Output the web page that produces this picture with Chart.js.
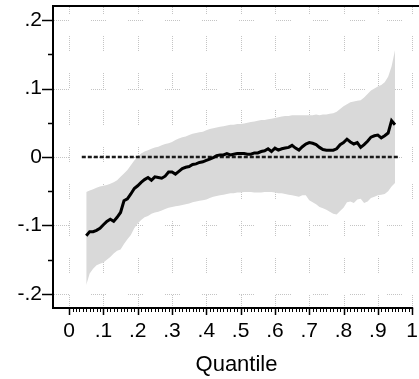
<!DOCTYPE html>
<html>
<head>
<meta charset="utf-8">
<script src="https://cdn.jsdelivr.net/npm/chart.js@4/dist/chart.umd.min.js"></script>
<style>
  html, body { margin: 0; padding: 0; background: #fff; }
  #wrap { width: 419px; height: 379px; position: relative; }
</style>
</head>
<body>
<div id="wrap"><canvas id="chart" width="419" height="379"></canvas></div>
<script>
// Quantile grid of the estimated coefficient process
const quantiles = [
  0.05, 0.06, 0.07, 0.08, 0.09, 0.10, 0.11, 0.12, 0.13, 0.14,
  0.15, 0.16, 0.17, 0.18, 0.19, 0.20, 0.21, 0.22, 0.23, 0.24,
  0.25, 0.26, 0.27, 0.28, 0.29, 0.30, 0.31, 0.32, 0.33, 0.34,
  0.35, 0.36, 0.37, 0.38, 0.39, 0.40, 0.41, 0.42, 0.43, 0.44,
  0.45, 0.46, 0.47, 0.48, 0.49, 0.50, 0.51, 0.52, 0.53, 0.54,
  0.55, 0.56, 0.57, 0.58, 0.59, 0.60, 0.61, 0.62, 0.63, 0.64,
  0.65, 0.66, 0.67, 0.68, 0.69, 0.70, 0.71, 0.72, 0.73, 0.74,
  0.75, 0.76, 0.77, 0.78, 0.79, 0.80, 0.81, 0.82, 0.83, 0.84,
  0.85, 0.86, 0.87, 0.88, 0.89, 0.90, 0.91, 0.92, 0.93, 0.94,
  0.95
];

// Point estimates by quantile
const estimate = [
  -0.115, -0.109, -0.109, -0.107, -0.104, -0.099, -0.094, -0.091, -0.094, -0.088,
  -0.081, -0.064, -0.061, -0.054, -0.046, -0.042, -0.037, -0.033, -0.030, -0.034,
  -0.029, -0.030, -0.031, -0.028, -0.022, -0.022, -0.025, -0.021, -0.017, -0.015,
  -0.014, -0.011, -0.010, -0.008, -0.007, -0.005, -0.003, -0.001, 0.002, 0.003,
  0.003, 0.005, 0.003, 0.004, 0.005, 0.005, 0.005, 0.004, 0.004, 0.006,
  0.006, 0.008, 0.009, 0.012, 0.008, 0.013, 0.010, 0.012, 0.013, 0.014,
  0.017, 0.013, 0.010, 0.015, 0.019, 0.021, 0.020, 0.018, 0.014, 0.011,
  0.010, 0.010, 0.010, 0.012, 0.018, 0.021, 0.026, 0.022, 0.019, 0.021,
  0.014, 0.018, 0.023, 0.029, 0.031, 0.032, 0.028, 0.031, 0.035, 0.053,
  0.047
];

// Upper bound of the confidence band
const ciUpper = [
  -0.051, -0.049, -0.047, -0.045, -0.043, -0.042, -0.041, -0.039, -0.037, -0.034,
  -0.029, -0.024, -0.019, -0.012, -0.005, 0.000, 0.005, 0.008, 0.010, 0.012,
  0.014, 0.015, 0.017, 0.019, 0.020, 0.022, 0.025, 0.027, 0.029, 0.030,
  0.032, 0.034, 0.035, 0.036, 0.037, 0.039, 0.041, 0.042, 0.043, 0.044,
  0.045, 0.046, 0.047, 0.047, 0.048, 0.048, 0.049, 0.050, 0.051, 0.052,
  0.053, 0.054, 0.054, 0.055, 0.056, 0.057, 0.058, 0.059, 0.060, 0.060,
  0.061, 0.061, 0.061, 0.061, 0.061, 0.061, 0.061, 0.062, 0.061, 0.062,
  0.062, 0.063, 0.064, 0.066, 0.070, 0.074, 0.077, 0.080, 0.081, 0.082,
  0.083, 0.087, 0.092, 0.097, 0.100, 0.103, 0.105, 0.109, 0.117, 0.132,
  0.156
];

// Lower bound of the confidence band
const ciLower = [
  -0.187, -0.170, -0.163, -0.158, -0.156, -0.154, -0.150, -0.146, -0.141, -0.137,
  -0.135, -0.127, -0.120, -0.114, -0.104, -0.097, -0.092, -0.088, -0.086, -0.083,
  -0.081, -0.080, -0.078, -0.076, -0.074, -0.073, -0.072, -0.071, -0.070, -0.069,
  -0.068, -0.066, -0.065, -0.064, -0.063, -0.062, -0.060, -0.058, -0.057, -0.056,
  -0.055, -0.054, -0.053, -0.053, -0.052, -0.052, -0.051, -0.051, -0.051, -0.052,
  -0.052, -0.052, -0.051, -0.051, -0.051, -0.052, -0.053, -0.053, -0.054, -0.055,
  -0.056, -0.057, -0.058, -0.056, -0.056, -0.063, -0.066, -0.069, -0.073, -0.075,
  -0.077, -0.080, -0.083, -0.084, -0.079, -0.074, -0.066, -0.065, -0.067, -0.062,
  -0.061, -0.067, -0.065, -0.060, -0.058, -0.056, -0.055, -0.054, -0.050, -0.043,
  -0.038
];

// Zero reference line
const zeroLineX = [0.037, 0.963];
const zeroLineY = [0, 0];

// Axis ticks
const xTicks = [0, 0.1, 0.2, 0.3, 0.4, 0.5, 0.6, 0.7, 0.8, 0.9, 1];
const yTicks = [-0.2, -0.1, 0, 0.1, 0.2];
const yMinorTicks = [-0.15, -0.05, 0.05, 0.15];
const xMinorPerMajor = 10;

const FONT = "'Liberation Sans', Arial, Helvetica, sans-serif";

function fmtTick(v) {
  if (Math.abs(v) < 1e-9) return '0';
  if (Number.isInteger(v)) return String(v);
  const s = Math.abs(v).toFixed(2).replace(/0+$/, '').replace(/^0/, '');
  return (v < 0 ? '-' : '') + s;
}

const toPts = (xs, ys) => xs.map((x, i) => ({ x: x, y: ys[i] }));

// Stata-style frame: broken dotted grid, outward ticks with minor ticks
const framePlugin = {
  id: 'frame',
  beforeDatasetsDraw(chart) {
    const { ctx, chartArea: a, scales: { x, y } } = chart;
    ctx.save();
    ctx.beginPath();
    ctx.rect(a.left, a.top, a.right - a.left, a.bottom - a.top);
    ctx.clip();
    ctx.strokeStyle = '#c4c4c4';
    ctx.lineWidth = 1;
    const pat = [1, 1, 1, 1, 1, 1, 1, 1, 1, 1, 1, 1, 1, 1, 1, 22];
    ctx.setLineDash(pat);
    xTicks.forEach(v => {
      const px = Math.round(x.getPixelForValue(v)) + 0.5;
      ctx.lineDashOffset = 8;
      ctx.beginPath();
      ctx.moveTo(px, a.top);
      ctx.lineTo(px, a.bottom);
      ctx.stroke();
    });
    yTicks.forEach(v => {
      const py = Math.round(y.getPixelForValue(v)) + 0.5;
      ctx.lineDashOffset = 0;
      ctx.beginPath();
      ctx.moveTo(a.left, py);
      ctx.lineTo(a.right, py);
      ctx.stroke();
    });
    ctx.restore();
  },
  afterDatasetsDraw(chart) {
    const { ctx, chartArea: a, scales: { x, y } } = chart;
    ctx.save();
    ctx.strokeStyle = '#000';
    ctx.setLineDash([]);
    const xEnd = x.getPixelForValue(xTicks[xTicks.length - 1]);
    // axis lines
    ctx.lineWidth = 2;
    ctx.beginPath();
    ctx.moveTo(a.left - 1, a.top - 1);
    ctx.lineTo(a.left - 1, a.bottom + 2);
    ctx.moveTo(a.left - 2, a.bottom + 1);
    ctx.lineTo(xEnd + 1, a.bottom + 1);
    ctx.moveTo(a.left - 2, a.top - 1);
    ctx.lineTo(a.right, a.top - 1);
    ctx.stroke();
    // y ticks
    ctx.lineWidth = 1.5;
    ctx.beginPath();
    yTicks.forEach(v => {
      const py = Math.round(y.getPixelForValue(v)) + 0.5;
      ctx.moveTo(a.left - 12, py);
      ctx.lineTo(a.left - 1, py);
    });
    yMinorTicks.forEach(v => {
      const py = Math.round(y.getPixelForValue(v)) + 0.5;
      ctx.moveTo(a.left - 6, py);
      ctx.lineTo(a.left - 1, py);
    });
    ctx.stroke();
    // x ticks
    ctx.beginPath();
    xTicks.forEach(v => {
      const px = Math.round(x.getPixelForValue(v)) + 0.5;
      ctx.moveTo(px, a.bottom + 1);
      ctx.lineTo(px, a.bottom + 8);
    });
    ctx.stroke();
    ctx.lineWidth = 1;
    ctx.beginPath();
    for (let i = 0; i < xTicks.length - 1; i++) {
      const step = (xTicks[i + 1] - xTicks[i]) / xMinorPerMajor;
      for (let k = 1; k < xMinorPerMajor; k++) {
        const px = Math.round(x.getPixelForValue(xTicks[i] + k * step)) + 0.5;
        ctx.moveTo(px, a.bottom + 1);
        ctx.lineTo(px, a.bottom + 5);
      }
    }
    ctx.stroke();
    ctx.restore();
  }
};

new Chart(document.getElementById('chart'), {
  type: 'line',
  data: {
    datasets: [
      {
        label: 'Estimate',
        data: toPts(quantiles, estimate),
        borderColor: '#000',
        borderWidth: 3,
        pointRadius: 0,
        tension: 0,
        fill: false
      },
      {
        label: 'Zero',
        data: toPts(zeroLineX, zeroLineY),
        borderColor: '#1a1a1a',
        borderWidth: 2.5,
        borderDash: [4, 2],
        pointRadius: 0,
        fill: false
      },
      {
        label: 'Upper',
        data: toPts(quantiles, ciUpper),
        borderWidth: 0,
        borderColor: 'rgba(0,0,0,0)',
        backgroundColor: '#d9d9d9',
        pointRadius: 0,
        fill: '+1'
      },
      {
        label: 'Lower',
        data: toPts(quantiles, ciLower),
        borderWidth: 0,
        borderColor: 'rgba(0,0,0,0)',
        pointRadius: 0,
        fill: false
      }
    ]
  },
  options: {
    responsive: false,
    animation: false,
    devicePixelRatio: 1,
    layout: { padding: { top: 7, right: 0, bottom: 0, left: 0 } },
    plugins: { legend: { display: false }, tooltip: { enabled: false } },
    scales: {
      x: {
        type: 'linear',
        min: -0.044,
        max: 1.02,
        afterBuildTicks: s => { s.ticks = xTicks.map(v => ({ value: v })); },
        afterFit: s => { s.height = 72; s.paddingLeft = 0; s.paddingRight = 0; },
        grid: { display: false, drawTicks: false },
        border: { display: false },
        ticks: {
          padding: 12,
          autoSkip: false,
          maxRotation: 0,
          color: '#000',
          font: { family: FONT, size: 21 },
          callback: v => fmtTick(v)
        },
        title: {
          display: true,
          text: 'Quantile',
          color: '#000',
          font: { family: FONT, size: 22 },
          padding: { top: 0, bottom: 1 }
        }
      },
      y: {
        type: 'linear',
        min: -0.219,
        max: 0.219,
        afterBuildTicks: s => { s.ticks = yTicks.map(v => ({ value: v })); },
        afterFit: s => { s.width = 54; s.paddingTop = 0; s.paddingBottom = 0; },
        grid: { display: false, drawTicks: false },
        border: { display: false },
        ticks: {
          padding: 12,
          color: '#000',
          font: { family: FONT, size: 21 },
          callback: v => fmtTick(v)
        }
      }
    }
  },
  plugins: [framePlugin]
});
</script>
</body>
</html>
